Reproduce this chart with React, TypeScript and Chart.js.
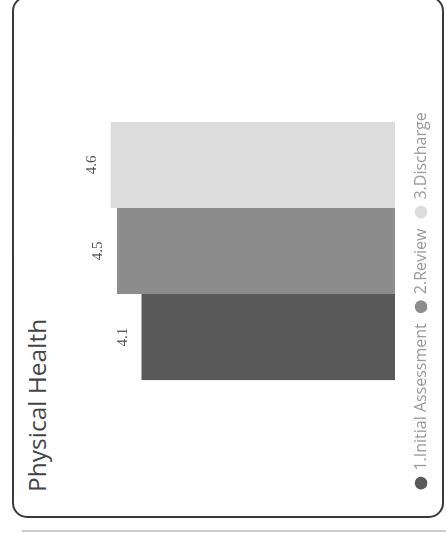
import React, { useEffect, useRef } from "react";
import { Chart, registerables } from "chart.js";

Chart.register(...registerables);

const categories = ["Physical Health"];
const seriesNames = ["1.Initial Assessment", "2.Review", "3.Discharge"];
const initialValues = [4.1];
const reviewValues = [4.5];
const dischargeValues = [4.6];
const seriesColors = ["#595959", "#8c8c8c", "#dcdcdc"];
const titleText = "Physical Health";

const labelPlugin = {
  id: "barValueLabels",
  afterDatasetsDraw(chart: any) {
    const ctx = chart.ctx;
    ctx.save();
    ctx.font = "15px 'Liberation Serif', serif";
    ctx.fillStyle = "#505050";
    ctx.textAlign = "center";
    ctx.textBaseline = "middle";
    chart.data.datasets.forEach((ds: any, i: number) => {
      const meta = chart.getDatasetMeta(i);
      meta.data.forEach((el: any, j: number) => {
        const v = ds.data[j];
        ctx.fillText(Number(v).toFixed(1), el.x, el.y - 19);
      });
    });
    ctx.restore();
  },
};

function ChartCanvas() {
  const ref = useRef<HTMLCanvasElement | null>(null);
  useEffect(() => {
    if (!ref.current) return;
    const allSeries = [initialValues, reviewValues, dischargeValues];
    const chart = new Chart(ref.current, {
      type: "bar",
      data: {
        labels: categories,
        datasets: allSeries.map((vals, i) => ({
          label: seriesNames[i],
          data: vals,
          backgroundColor: seriesColors[i],
          borderWidth: 0,
          barPercentage: 1,
          categoryPercentage: 0.787,
        })),
      },
      options: {
        responsive: false,
        animation: false,
        maintainAspectRatio: false,
        layout: { padding: { top: 26, bottom: 5, left: 0, right: 0 } },
        scales: {
          x: {
            display: true,
            grid: { display: false },
            border: { display: false },
            ticks: { display: false },
            afterFit: (s: any) => {
              s.height = 6;
            },
          },
          y: {
            display: true,
            min: 0,
            max: 5,
            grid: { display: false },
            border: { display: false },
            ticks: { display: false },
            afterFit: (s: any) => {
              s.width = 98;
            },
          },
        },
        plugins: {
          title: { display: false },
          tooltip: { enabled: false },
          legend: {
            display: true,
            position: "bottom",
            labels: {
              usePointStyle: true,
              pointStyle: "circle",
              boxWidth: 9,
              boxHeight: 9,
              padding: 12,
              color: "#9a9a9a",
              font: { family: "'Open Sans', sans-serif", size: 16 },
            },
          },
        },
      },
      plugins: [labelPlugin],
    });
    return () => chart.destroy();
  }, []);
  return (
    <canvas
      ref={ref}
      width={426}
      height={384}
      style={{ position: "absolute", left: 20, top: 60, width: 426, height: 384 }}
    />
  );
}

export default function App() {
  return (
    <div
      style={{
        position: "fixed",
        left: 0,
        top: 0,
        width: 446,
        height: 533,
        overflow: "hidden",
        background: "#ffffff",
      }}
    >
      <div
        style={{
          position: "absolute",
          left: 0,
          top: 0,
          width: 533,
          height: 446,
          transformOrigin: "0 0",
          transform: "translate(0px, 533px) rotate(-90deg)",
        }}
      >
        <div
          style={{
            position: "absolute",
            left: 1,
            top: 22,
            width: 2,
            height: 430,
            background: "#cccccc",
          }}
        />
        <div
          style={{
            position: "absolute",
            left: 15,
            top: 12,
            width: 522,
            height: 432,
            boxSizing: "border-box",
            border: "2px solid #3a3a3a",
            borderRadius: 15,
            background: "#ffffff",
          }}
        />
        <div
          style={{
            position: "absolute",
            left: 41,
            top: 25,
            fontFamily: "'Open Sans', sans-serif",
            fontSize: 24.5,
            lineHeight: "24px",
            color: "#444444",
            whiteSpace: "nowrap",
          }}
        >
          {titleText}
        </div>
        <ChartCanvas />
      </div>
    </div>
  );
}
